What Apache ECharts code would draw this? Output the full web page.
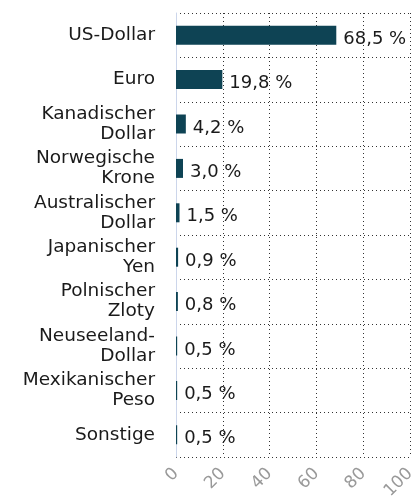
<!DOCTYPE html>
<html>
<head>
<meta charset="utf-8">
<script src="https://cdn.jsdelivr.net/npm/echarts@6/dist/echarts.min.js"></script>
<style>
  html, body { margin: 0; padding: 0; background: #fff; }
  #chart { width: 414px; height: 497px; }
</style>
</head>
<body>
<div id="chart"></div>
<script>
// Währungsanteile in Prozent
const categories = [
  'US-Dollar', 'Euro', 'Kanadischer\nDollar', 'Norwegische\nKrone',
  'Australischer\nDollar', 'Japanischer\nYen', 'Polnischer\nZloty',
  'Neuseeland-\nDollar', 'Mexikanischer\nPeso', 'Sonstige'
]
const shares = [68.5, 19.8, 4.2, 3.0, 1.5, 0.9, 0.8, 0.5, 0.5, 0.5]
const xTicks = [0, 20, 40, 60, 80, 100]

const fontFamily = '"DejaVu Sans", sans-serif'
let myChart = echarts.init(document.getElementById('chart'))
myChart.setOption({
  animation: false,
  grid: {
    left: 176,
    right: 4,
    top: 13,
    bottom: 40,
    containLabel: false,
    outerBoundsMode: 'none'
  },
  xAxis: {
    type: 'value',
    min: xTicks[0],
    max: xTicks[xTicks.length - 1],
    interval: 20,
    axisLine: { show: false },
    axisTick: { show: false },
    axisLabel: {
      rotate: 45,
      margin: 14,
      color: '#999',
      fontSize: 17,
      fontFamily: fontFamily
    },
    splitLine: {
      lineStyle: { color: '#333', type: [1, 3], width: 1 }
    }
  },
  yAxis: {
    type: 'category',
    inverse: true,
    data: categories,
    axisLine: { show: true, lineStyle: { color: '#ccd6eb' } },
    axisTick: { show: false },
    axisLabel: {
      margin: 21,
      color: '#1a1a1a',
      fontSize: 18.5,
      lineHeight: 20,
      fontFamily: fontFamily
    },
    splitLine: {
      show: true,
      lineStyle: { color: '#333', type: [1, 3], width: 1 }
    }
  },
  series: [
    {
      type: 'bar',
      data: shares,
      barWidth: 19,
      itemStyle: { color: '#0e4354' },
      label: {
        show: true,
        position: 'right',
        distance: 7,
        offset: [0, 4],
        color: '#1a1a1a',
        fontSize: 18,
        fontFamily: fontFamily,
        formatter: p => p.value.toFixed(1).replace('.', ',') + ' %'
      }
    }
  ]
})
</script>
</body>
</html>
